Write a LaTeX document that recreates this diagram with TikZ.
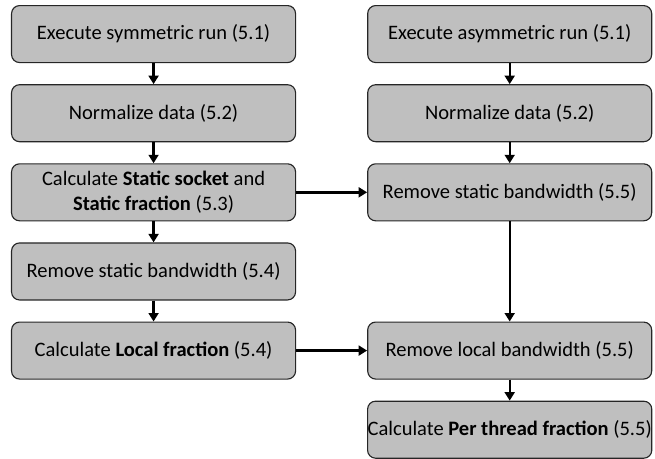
\documentclass[tikz,border=0pt]{standalone}
\usepackage{fontspec}
\setmainfont{Carlito}
\definecolor{boxgray}{HTML}{BFBFBF}
\usetikzlibrary{calc, positioning, arrows.meta}

\begin{document}
\begin{tikzpicture}[
  stepbox/.style={draw=black!85, fill=boxgray, line width=0.8pt, rounded corners=0.2cm,
    minimum width=7.1cm, minimum height=1.425cm, align=center, inner xsep=0pt, inner ysep=2pt,
    font=\fontsize{14.6}{18}\selectfont},
  flow/.style={-{Triangle[length=6pt,width=7pt]}, line width=1.7pt},
  node distance=0.525cm and 1.775cm
]
  % Symmetric run (left column)
  \node[stepbox] (symrun) {Execute symmetric run (5.1)};
  \node[stepbox, below=of symrun] (symnorm) {Normalize data (5.2)};
  \node[stepbox, below=of symnorm] (symfrac) {Calculate \textbf{Static socket} and\\\textbf{Static fraction} (5.3)};
  \node[stepbox, below=of symfrac] (symstatic) {Remove static bandwidth (5.4)};
  \node[stepbox, below=of symstatic] (symlocal) {Calculate \textbf{Local fraction} (5.4)};

  % Asymmetric run (right column)
  \node[stepbox, right=of symrun] (asymrun) {Execute asymmetric run (5.1)};
  \node[stepbox, below=of asymrun] (asymnorm) {Normalize data (5.2)};
  \node[stepbox, below=of asymnorm] (asymstatic) {Remove static bandwidth (5.5)};
  \node[stepbox, right=of symlocal] (asymlocal) {Remove local bandwidth (5.5)};
  \node[stepbox, below=of asymlocal] (asymthread) {Calculate \textbf{Per thread fraction} (5.5)};

  % Margins
  \useasboundingbox ($(symrun.north west)+(-0.275,0.125)$) rectangle +(16.375,-11.35);

  % Connectors
  \draw[flow] (symrun) -- (symnorm);
  \draw[flow] (symnorm) -- (symfrac);
  \draw[flow] (symfrac) -- (symstatic);
  \draw[flow] (symstatic) -- (symlocal);
  \draw[flow] (asymrun) -- (asymnorm);
  \draw[flow] (asymnorm) -- (asymstatic);
  \draw[flow] (asymstatic) -- (asymlocal);
  \draw[flow] (asymlocal) -- (asymthread);
  \draw[flow] (symfrac) -- (asymstatic);
  \draw[flow] (symlocal) -- (asymlocal);
\end{tikzpicture}
\end{document}
